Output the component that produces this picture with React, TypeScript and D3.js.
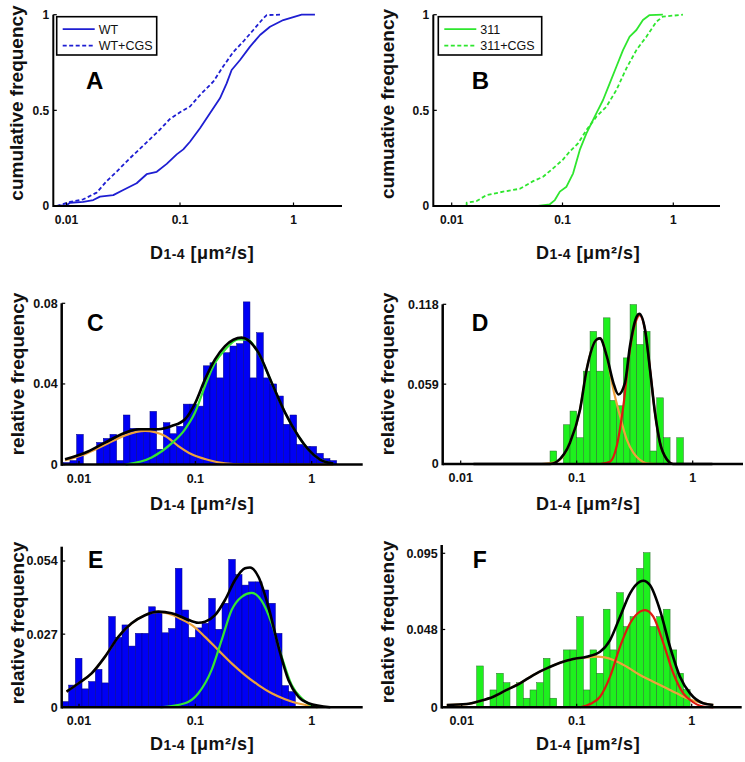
import React from "react";
import * as d3 from "d3";

const FONT = '"Liberation Sans", Arial, Helvetica, sans-serif';

// ---------------- DATA (x values as log10 of D [µm²/s]) ----------------
const xTickVals = [0.01, 0.1, 1];
const xTickLabels = ["0.01", "0.1", "1"];

const cdfTicks = [0, 0.5, 1];
const cdfTickLabels = ["0", "0.5", "1"];
const cTicks = [0, 0.04, 0.08];
const cTickLabels = ["0", "0.04", "0.08"];
const dTicks = [0, 0.059, 0.118];
const dTickLabels = ["0", "0.059", "0.118"];
const eTicks = [0, 0.027, 0.054];
const eTickLabels = ["0", "0.027", "0.054"];
const fTicks = [0, 0.048, 0.095];
const fTickLabels = ["0", "0.048", "0.095"];

// Panel A cumulative curves [log10 D, F]
const cdfWT: [number, number][] = [
  [-2.087, 0], [-1.998, 0.005], [-1.969, 0.017], [-1.852, 0.022], [-1.764, 0.031], [-1.705, 0.049],
  [-1.588, 0.057], [-1.5, 0.084], [-1.382, 0.119], [-1.294, 0.166], [-1.205, 0.179], [-1.117, 0.22],
  [-1.029, 0.27], [-0.971, 0.296], [-0.912, 0.336], [-0.824, 0.406], [-0.736, 0.485], [-0.648, 0.563],
  [-0.589, 0.641], [-0.545, 0.711], [-0.471, 0.763], [-0.383, 0.833], [-0.295, 0.894], [-0.207, 0.937],
  [-0.09, 0.972], [0.028, 0.993], [0.072, 1], [0.189, 1],
];
const cdfWTCGS: [number, number][] = [
  [-2.087, 0], [-1.969, 0.021], [-1.852, 0.035], [-1.734, 0.07], [-1.646, 0.13], [-1.558, 0.18],
  [-1.441, 0.25], [-1.352, 0.3], [-1.264, 0.35], [-1.176, 0.4], [-1.088, 0.455], [-1.0, 0.49],
  [-0.912, 0.52], [-0.824, 0.58], [-0.707, 0.65], [-0.619, 0.73], [-0.53, 0.805], [-0.442, 0.86],
  [-0.354, 0.92], [-0.266, 0.981], [-0.236, 0.998], [-0.119, 1],
];
// Panel B cumulative curves
const cdf311: [number, number][] = [
  [-1.22, 0], [-1.114, 0.009], [-1.069, 0.031], [-1.024, 0.075], [-0.964, 0.101], [-0.904, 0.171],
  [-0.844, 0.293], [-0.784, 0.38], [-0.724, 0.45], [-0.679, 0.502], [-0.634, 0.554], [-0.574, 0.641],
  [-0.514, 0.728], [-0.454, 0.815], [-0.394, 0.885], [-0.333, 0.92], [-0.274, 0.972], [-0.214, 0.998],
  [-0.094, 1],
];
const cdf311CGS: [number, number][] = [
  [-1.865, 0], [-1.865, 0.017], [-1.775, 0.026], [-1.685, 0.057], [-1.535, 0.075], [-1.385, 0.09],
  [-1.265, 0.13], [-1.175, 0.153], [-1.085, 0.197], [-1.0, 0.24], [-0.934, 0.285], [-0.859, 0.328],
  [-0.784, 0.397], [-0.694, 0.467], [-0.604, 0.519], [-0.514, 0.606], [-0.423, 0.72], [-0.333, 0.815],
  [-0.243, 0.885], [-0.153, 0.963], [-0.094, 0.99], [0.087, 1],
];

// Histograms: first bin edge (log10 D), bin width (log10), relative frequencies
const histCStart = -2.135;
const histCWidth = 0.0573;
const histC = [
  0.001, 0.002, 0.015, 0, 0, 0.011, 0.013, 0.015, 0.002, 0.0246, 0.018, 0.018, 0.017, 0.0264,
  0.0076, 0.0208, 0.0153, 0.019, 0.03, 0.03, 0.029, 0.049, 0.0505, 0.043, 0.0555, 0.0588, 0.06,
  0.0807, 0.043, 0.0654, 0.043, 0.04, 0.034, 0.02, 0.0246, 0.01, 0.009, 0.009, 0.0056, 0.003, 0.002,
];
const histDStart = -1.23;
const histDWidth = 0.0575;
const histD = [
  0.0096, 0, 0.029, 0.0391, 0.0194, 0.0686, 0.098, 0.0686, 0.108, 0.047, 0.043, 0.0784, 0.1178,
  0.0883, 0.098, 0.0096, 0.0489, 0.0194, 0, 0.0194,
];
const histEStart = -2.146;
const histEWidth = 0.0573;
const histE = [
  0.0021, 0.0082, 0.0181, 0.0068, 0.0095, 0.014, 0.009, 0.0335, 0.0258, 0.0304, 0.0226, 0.0273,
  0.0273, 0.0371, 0.035, 0.0275, 0.0291, 0.0513, 0.0359, 0.0258, 0.0293, 0.031, 0.0402, 0.0288,
  0.0384, 0.0546, 0.049, 0.0451, 0.0463, 0.0463, 0.0433, 0.0384, 0.0273, 0.008, 0.0058,
];
const histFStart = -1.87;
const histFWidth = 0.058;
const histF = [
  0.0255, 0, 0.0107, 0.021, 0.0152, 0, 0.0152, 0.0056, 0.0107, 0.0152, 0.0302, 0.0056, 0, 0.0354,
  0.0354, 0.0559, 0.0107, 0.0354, 0.021, 0.0605, 0.0354, 0.0707, 0.0498, 0.0559, 0.0857, 0.0954,
  0.0498, 0.0559, 0.0605, 0.0354, 0.021, 0.011,
];

// Fitted curves [log10 D, relative frequency]
const fitCTotal: [number, number][] = [
  [-2.12, 0.0026], [-1.948, 0.0059], [-1.776, 0.0109], [-1.604, 0.0158], [-1.49, 0.0175], [-1.318, 0.0175],
  [-1.204, 0.0191], [-1.089, 0.0225], [-1.0, 0.0307], [-0.917, 0.0423], [-0.831, 0.0522], [-0.745, 0.0588],
  [-0.602, 0.063], [-0.458, 0.0555], [-0.344, 0.0406], [-0.229, 0.0258], [-0.115, 0.0142], [-0.03, 0.0076],
  [0.072, 0.0025], [0.186, 0.0005],
];
const fitCSlow: [number, number][] = [
  [-2.12, 0.0022], [-1.948, 0.0052], [-1.776, 0.0098], [-1.604, 0.0145], [-1.433, 0.0167], [-1.26, 0.0142],
  [-1.146, 0.0092], [-1.032, 0.0051], [-0.888, 0.0023], [-0.745, 0.0006], [-0.6, 0.0001], [0.186, 0],
];
const fitCFast: [number, number][] = [
  [-1.6, 0], [-1.376, 0.0035], [-1.204, 0.0105], [-1.089, 0.0175], [-1.003, 0.0258], [-0.917, 0.039],
  [-0.831, 0.0505], [-0.745, 0.057], [-0.63, 0.0621], [-0.55, 0.062], [-0.458, 0.0553], [-0.344, 0.0405],
  [-0.229, 0.0257], [-0.115, 0.0141], [-0.03, 0.0075], [0.072, 0.0025], [0.186, 0.0005],
];
const fitDTotal: [number, number][] = [
  [-1.89, 0], [-1.23, 0], [-1.172, 0.0017], [-1.058, 0.0157], [-0.971, 0.0403], [-0.914, 0.0698],
  [-0.828, 0.092], [-0.799, 0.0928], [-0.741, 0.0797], [-0.684, 0.06], [-0.641, 0.0514], [-0.584, 0.06],
  [-0.541, 0.087], [-0.483, 0.109], [-0.46, 0.111], [-0.411, 0.0993], [-0.368, 0.0698], [-0.325, 0.0378],
  [-0.282, 0.0157], [-0.224, 0.0035], [-0.167, 0], [0.17, 0],
];
const fitDSlow: [number, number][] = [
  [-1.3, 0], [-1.172, 0.0017], [-1.058, 0.0157], [-0.971, 0.0403], [-0.914, 0.0698], [-0.828, 0.092],
  [-0.799, 0.0928], [-0.741, 0.0797], [-0.684, 0.055], [-0.627, 0.0354], [-0.569, 0.0182], [-0.512, 0.0084],
  [-0.455, 0.003], [-0.4, 0.0005], [-0.3, 0],
];
const fitDFast: [number, number][] = [
  [-0.8, 0], [-0.713, 0.0017], [-0.655, 0.0133], [-0.598, 0.0428], [-0.541, 0.0846], [-0.483, 0.107],
  [-0.46, 0.11], [-0.411, 0.0993], [-0.368, 0.0698], [-0.325, 0.0378], [-0.282, 0.0157], [-0.224, 0.0035],
  [-0.167, 0], [-0.1, 0],
];
const fitETotal: [number, number][] = [
  [-2.107, 0.0058], [-2.006, 0.0088], [-1.892, 0.0125], [-1.776, 0.0187], [-1.662, 0.026], [-1.548, 0.031],
  [-1.433, 0.034], [-1.318, 0.0353], [-1.204, 0.0347], [-1.089, 0.0328], [-0.974, 0.0312], [-0.917, 0.0316],
  [-0.831, 0.034], [-0.745, 0.0396], [-0.659, 0.047], [-0.573, 0.0513], [-0.53, 0.0516], [-0.458, 0.0482],
  [-0.372, 0.0371], [-0.286, 0.0224], [-0.2, 0.0101], [-0.114, 0.0039], [-0.028, 0.0015], [0.16, 0],
];
const fitESlow: [number, number][] = [
  [-2.107, 0.0058], [-2.006, 0.0088], [-1.892, 0.0125], [-1.776, 0.0187], [-1.662, 0.026], [-1.548, 0.031],
  [-1.433, 0.034], [-1.318, 0.0352], [-1.204, 0.0342], [-1.089, 0.0318], [-1.032, 0.0304], [-0.917, 0.026],
  [-0.803, 0.0211], [-0.688, 0.0162], [-0.573, 0.0119], [-0.458, 0.0082], [-0.344, 0.0052], [-0.229, 0.003],
  [-0.114, 0.0014], [-0.028, 0.0007], [0.05, 0],
];
const fitEFast: [number, number][] = [
  [-1.3, 0], [-1.089, 0.0015], [-0.974, 0.0052], [-0.86, 0.0138], [-0.774, 0.0248], [-0.688, 0.0359],
  [-0.602, 0.0408], [-0.516, 0.0422], [-0.43, 0.0393], [-0.344, 0.031], [-0.258, 0.0187], [-0.172, 0.0082],
  [-0.086, 0.0033], [-0.028, 0.0013], [0.05, 0],
];
const fitFTotal: [number, number][] = [
  [-2.13, 0.0014], [-1.957, 0.002], [-1.84, 0.0039], [-1.725, 0.0065], [-1.609, 0.0107], [-1.493, 0.0148],
  [-1.377, 0.0199], [-1.261, 0.024], [-1.145, 0.0275], [-1.03, 0.0298], [-0.913, 0.0312], [-0.797, 0.0343],
  [-0.71, 0.0415], [-0.623, 0.0559], [-0.536, 0.0703], [-0.45, 0.0775], [-0.421, 0.0781], [-0.363, 0.0754],
  [-0.276, 0.06], [-0.189, 0.0374], [-0.102, 0.0189], [-0.014, 0.0086], [0.1, 0.0025], [0.188, 0.0014],
];
const fitFSlow: [number, number][] = [
  [-2.13, 0.0014], [-1.957, 0.002], [-1.84, 0.0039], [-1.725, 0.0065], [-1.609, 0.0107], [-1.493, 0.0148],
  [-1.377, 0.0199], [-1.261, 0.024], [-1.145, 0.0275], [-1.03, 0.0297], [-0.913, 0.0308], [-0.826, 0.0312],
  [-0.682, 0.0292], [-0.565, 0.025], [-0.45, 0.0199], [-0.334, 0.0158], [-0.218, 0.0117], [-0.102, 0.0076],
  [-0.014, 0.0048], [0.1, 0.0025], [0.188, 0.0014],
];
const fitFFast: [number, number][] = [
  [-0.971, 0], [-0.884, 0.002], [-0.797, 0.0065], [-0.71, 0.0189], [-0.623, 0.0374], [-0.536, 0.0518],
  [-0.45, 0.059], [-0.406, 0.06], [-0.334, 0.0559], [-0.246, 0.0395], [-0.16, 0.021], [-0.073, 0.0086],
  [-0.014, 0.0045], [0.1, 0.0005], [0.188, 0],
];

// ---------------- STYLE ----------------
const BLUE_LINE = "#1e1ed2";
const GREEN_LINE = "#2ee62e";
const BAR_BLUE = "#0000f4";
const BAR_BLUE_EDGE = "#000080";
const BAR_GREEN = "#1ef01e";
const BAR_GREEN_EDGE = "#2e6e2e";
const FIT_ORANGE = "#eea23c";
const FIT_GREEN = "#33e633";
const FIT_RED = "#dd1a10";

type Cfg = {
  px01: number; px1: number; axL: number; axR: number;
  yZero: number; yRefVal: number; yRefPix: number; axTop: number;
  ticks: number[]; tickLabels: string[];
  axW: number; tickFs: number;
};

function scalesFor(c: Cfg) {
  const x = d3.scaleLog().domain([0.01, 1]).range([c.px01, c.px1]);
  const y = d3.scaleLinear().domain([0, c.yRefVal]).range([c.yZero, c.yRefPix]);
  return { x, y };
}

function Axes({ c }: { c: Cfg }) {
  const { x, y } = scalesFor(c);
  return (
    <g>
      <line x1={c.axL} x2={c.axR} y1={c.yZero} y2={c.yZero} stroke="#000" strokeWidth={c.axW} />
      <line x1={c.axL} x2={c.axL} y1={c.yZero + c.axW / 2} y2={c.axTop} stroke="#000" strokeWidth={c.axW} />
      {xTickVals.map((t, i) => (
        <g key={"xt" + i}>
          <line x1={x(t)} x2={x(t)} y1={c.yZero} y2={c.yZero - 3.5} stroke="#000" strokeWidth={1.2} />
          <text x={x(t)} y={c.yZero + 18} fontSize={c.tickFs} fontWeight="bold" textAnchor="middle" fontFamily={FONT} fill="#111">
            {xTickLabels[i]}
          </text>
        </g>
      ))}
      {c.ticks.map((t, i) => (
        <g key={"yt" + i}>
          <line x1={c.axL} x2={c.axL + 3.5} y1={y(t)} y2={y(t)} stroke="#000" strokeWidth={1.2} />
          <text x={c.axL - 4} y={y(t)} dy="0.35em" fontSize={c.tickFs} fontWeight="bold" textAnchor="end" fontFamily={FONT} fill="#111">
            {c.tickLabels[i]}
          </text>
        </g>
      ))}
    </g>
  );
}

function Bars({ c, start, width, heights, fill, edge }: { c: Cfg; start: number; width: number; heights: number[]; fill: string; edge: string }) {
  const { x, y } = scalesFor(c);
  return (
    <g>
      {heights.map((h, k) => {
        if (h <= 0) return null;
        const x0 = x(Math.pow(10, start + k * width));
        const x1 = x(Math.pow(10, start + (k + 1) * width));
        return (
          <rect key={k} x={x0} y={y(h)} width={x1 - x0} height={c.yZero - y(h)} fill={fill} stroke={edge} strokeWidth={0.5} />
        );
      })}
    </g>
  );
}

function Curve({ c, pts, color, w, dash, smooth }: { c: Cfg; pts: [number, number][]; color: string; w: number; dash?: string; smooth?: boolean }) {
  const { x, y } = scalesFor(c);
  const gen = d3
    .line<[number, number]>()
    .x((d) => x(Math.pow(10, d[0])))
    .y((d) => y(d[1]))
    .curve(smooth ? d3.curveMonotoneX : d3.curveLinear);
  return <path d={gen(pts) || ""} fill="none" stroke={color} strokeWidth={w} strokeDasharray={dash} strokeLinejoin="round" strokeLinecap="butt" />;
}

function XLabel({ cx, y }: { cx: number; y: number }) {
  return (
    <text x={cx} y={y} fontSize={18} fontWeight="bold" textAnchor="middle" fontFamily={FONT} fill="#111" letterSpacing={0.5}>
      D<tspan fontSize={14}>1-4</tspan> [μm²/s]
    </text>
  );
}

function YLabel({ x, cy, label }: { x: number; cy: number; label: string }) {
  return (
    <text transform={`translate(${x},${cy}) rotate(-90)`} fontSize={19} fontWeight="bold" textAnchor="middle" fontFamily={FONT} fill="#111">
      {label}
    </text>
  );
}

function Letter({ x, y, s, fs }: { x: number; y: number; s: string; fs: number }) {
  return (
    <text x={x} y={y} fontSize={fs} fontWeight="bold" fontFamily={FONT} fill="#000">
      {s}
    </text>
  );
}

const cfgA: Cfg = { px01: 66.5, px1: 293.5, axL: 53.3, axR: 342, yZero: 206, yRefVal: 1, yRefPix: 14.7, axTop: 14.7, ticks: cdfTicks, tickLabels: cdfTickLabels, axW: 2, tickFs: 12 };
const cfgB: Cfg = { px01: 451.7, px1: 673.3, axL: 433.3, axR: 720, yZero: 206, yRefVal: 1, yRefPix: 14.7, axTop: 14.7, ticks: cdfTicks, tickLabels: cdfTickLabels, axW: 2, tickFs: 12 };
const cfgC: Cfg = { px01: 79, px1: 311.7, axL: 61.7, axR: 362.7, yZero: 464.6, yRefVal: 0.08, yRefPix: 303.3, axTop: 303.3, ticks: cTicks, tickLabels: cTickLabels, axW: 2.5, tickFs: 12.5 };
const cfgD: Cfg = { px01: 460.7, px1: 692.7, axL: 442.7, axR: 743, yZero: 464, yRefVal: 0.118, yRefPix: 304.3, axTop: 304.3, ticks: dTicks, tickLabels: dTickLabels, axW: 2.5, tickFs: 12.5 };
const cfgE: Cfg = { px01: 79, px1: 311.7, axL: 61.7, axR: 362.7, yZero: 707.3, yRefVal: 0.054, yRefPix: 561, axTop: 546.7, ticks: eTicks, tickLabels: eTickLabels, axW: 2.5, tickFs: 12.5 };
const cfgF: Cfg = { px01: 461.7, px1: 691.7, axL: 441.7, axR: 741.7, yZero: 707.3, yRefVal: 0.095, yRefPix: 553.3, axTop: 545, ticks: fTicks, tickLabels: fTickLabels, axW: 2.5, tickFs: 12.5 };

function Legend({ x, y, w, h, color, labels }: { x: number; y: number; w: number; h: number; color: string; labels: string[] }) {
  return (
    <g>
      <rect x={x} y={y} width={w} height={h} fill="#fff" stroke="#000" strokeWidth={1.6} />
      <line x1={x + 6} x2={x + 38} y1={y + 12.5} y2={y + 12.5} stroke={color} strokeWidth={1.8} />
      <line x1={x + 6} x2={x + 38} y1={y + 29} y2={y + 29} stroke={color} strokeWidth={1.8} strokeDasharray="4,2.5" />
      <text x={x + 42} y={y + 12.5} dy="0.35em" fontSize={12.5} fontFamily={FONT} fill="#111">{labels[0]}</text>
      <text x={x + 42} y={y + 29} dy="0.35em" fontSize={12.5} fontFamily={FONT} fill="#111">{labels[1]}</text>
    </g>
  );
}

export default function App() {
  return (
    <svg width={745} height={762} style={{ position: "absolute", left: 0, top: 0, background: "#fff" }}>
      <rect x={0} y={0} width={745} height={762} fill="#fff" />
      {/* Panel A */}
      <Curve c={cfgA} pts={cdfWT} color={BLUE_LINE} w={1.8} />
      <Curve c={cfgA} pts={cdfWTCGS} color={BLUE_LINE} w={1.8} dash="4,2.5" />
      <Axes c={cfgA} />
      <Legend x={56.7} y={16.7} w={100} h={38.3} color={BLUE_LINE} labels={["WT", "WT+CGS"]} />
      <Letter x={86} y={89.3} s="A" fs={24} />
      <YLabel x={23} cy={103} label="cumulative frequency" />
      <XLabel cx={202} y={259} />

      {/* Panel B */}
      <Curve c={cfgB} pts={cdf311} color={GREEN_LINE} w={1.8} />
      <Curve c={cfgB} pts={cdf311CGS} color={GREEN_LINE} w={1.8} dash="4,2.5" />
      <Axes c={cfgB} />
      <Legend x={438.3} y={16.7} w={103.4} h={38.3} color={GREEN_LINE} labels={["311", "311+CGS"]} />
      <Letter x={471.7} y={89.3} s="B" fs={24} />
      <YLabel x={394} cy={104} label="cumuative frequency" />
      <XLabel cx={588} y={259} />

      {/* Panel C */}
      <Bars c={cfgC} start={histCStart} width={histCWidth} heights={histC} fill={BAR_BLUE} edge={BAR_BLUE_EDGE} />
      <Curve c={cfgC} pts={fitCSlow} color={FIT_ORANGE} w={2.2} smooth />
      <Curve c={cfgC} pts={fitCFast} color={FIT_GREEN} w={2.2} smooth />
      <Curve c={cfgC} pts={fitCTotal} color="#000" w={2.6} smooth />
      <Axes c={cfgC} />
      <Letter x={87} y={330.7} s="C" fs={23} />
      <YLabel x={24} cy={374} label="relative frequency" />
      <XLabel cx={202} y={510} />

      {/* Panel D */}
      <Bars c={cfgD} start={histDStart} width={histDWidth} heights={histD} fill={BAR_GREEN} edge={BAR_GREEN_EDGE} />
      <Curve c={cfgD} pts={fitDSlow} color={FIT_ORANGE} w={2.2} smooth />
      <Curve c={cfgD} pts={fitDFast} color={FIT_RED} w={2.2} smooth />
      <Curve c={cfgD} pts={fitDTotal} color="#000" w={2.6} smooth />
      <Axes c={cfgD} />
      <Letter x={471.7} y={330.7} s="D" fs={23} />
      <YLabel x={394} cy={374} label="relative frequency" />
      <XLabel cx={588} y={510} />

      {/* Panel E */}
      <Bars c={cfgE} start={histEStart} width={histEWidth} heights={histE} fill={BAR_BLUE} edge={BAR_BLUE_EDGE} />
      <Curve c={cfgE} pts={fitESlow} color={FIT_ORANGE} w={2.2} smooth />
      <Curve c={cfgE} pts={fitEFast} color={FIT_GREEN} w={2.2} smooth />
      <Curve c={cfgE} pts={fitETotal} color="#000" w={2.6} smooth />
      <Axes c={cfgE} />
      <Letter x={88} y={568.3} s="E" fs={23} />
      <YLabel x={24} cy={623} label="relative frequency" />
      <XLabel cx={202} y={750} />

      {/* Panel F */}
      <Bars c={cfgF} start={histFStart} width={histFWidth} heights={histF} fill={BAR_GREEN} edge={BAR_GREEN_EDGE} />
      <Curve c={cfgF} pts={fitFSlow} color={FIT_ORANGE} w={2.2} smooth />
      <Curve c={cfgF} pts={fitFFast} color={FIT_RED} w={2.2} smooth />
      <Curve c={cfgF} pts={fitFTotal} color="#000" w={2.6} smooth />
      <Axes c={cfgF} />
      <Letter x={472.7} y={568.3} s="F" fs={23} />
      <YLabel x={394} cy={622} label="relative frequency" />
      <XLabel cx={588} y={750} />
    </svg>
  );
}
